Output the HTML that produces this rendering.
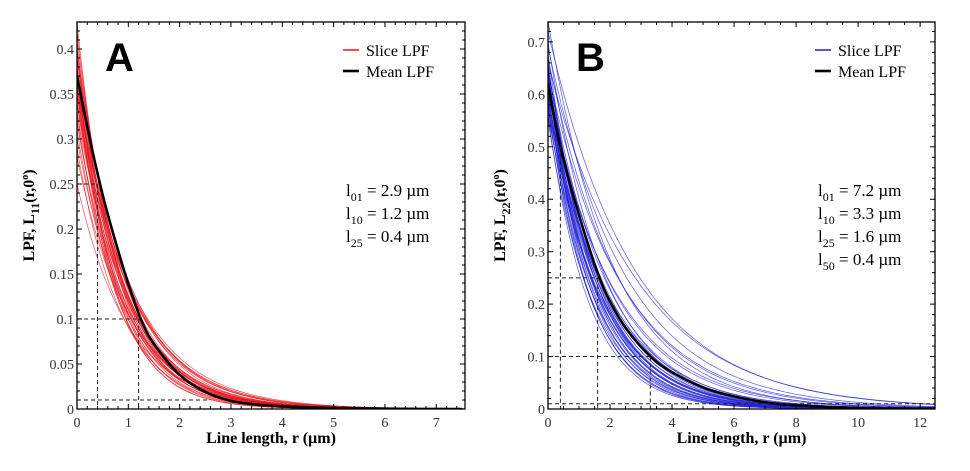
<!DOCTYPE html>
<html><head><meta charset="utf-8"><style>
body{margin:0;background:#fff}
svg text{font-family:"Liberation Serif",serif}
</style></head><body>
<svg id="fig" width="970" height="466" viewBox="0 0 970 466" xmlns="http://www.w3.org/2000/svg"></svg>
<script>
// ---- Panel A data ----
const meanA_r = [0,0.25,0.5,0.75,1,1.25,1.5,2,2.5,3,3.5,4,5,6,7.5];
const meanA_y = [0.37,0.30,0.238,0.186,0.139,0.099,0.072,0.038,0.019,0.009,0.005,0.003,0.001,0.0003,0];
const sliceA_amp = [0.43,0.42,0.41,0.40,0.40,0.39,0.39,0.38,0.38,0.37,0.37,0.37,0.36,0.36,0.36,0.35,0.35,0.34,0.34,0.33,0.33,0.32,0.31,0.30,0.29,0.28,0.25,0.38,0.36,0.35,0.40,0.37,0.34,0.39,0.36,0.32];
const sliceA_len = [0.78,0.82,0.88,0.80,0.95,0.86,1.00,0.90,0.75,0.87,0.93,1.02,0.80,0.92,1.05,0.84,0.97,0.90,1.08,0.80,1.00,0.94,0.88,0.96,0.86,1.02,1.00,0.72,0.74,1.10,0.91,0.82,0.95,0.89,1.02,0.90];
const xTicksA = [0,1,2,3,4,5,6,7];
const yTicksA = [0,0.05,0.1,0.15,0.2,0.25,0.3,0.35,0.4];
const yTickLabelsA = ["0","0.05","0.1","0.15","0.2","0.25","0.3","0.35","0.4"];
const statsA = [["01","2.9"],["10","1.2"],["25","0.4"]];
// ---- Panel B data ----
const meanB_r = [0,0.4,1,1.6,2,2.5,3.3,4,5,6,7.2,8,9,10,11,12.5];
const meanB_y = [0.62,0.50,0.37,0.26,0.205,0.155,0.10,0.07,0.041,0.024,0.011,0.007,0.004,0.002,0.001,0.0005];
const sliceB_amp = [0.74,0.72,0.70,0.69,0.68,0.67,0.66,0.66,0.65,0.65,0.64,0.64,0.63,0.63,0.62,0.62,0.61,0.61,0.60,0.60,0.59,0.59,0.58,0.58,0.57,0.57,0.56,0.56,0.55,0.64,0.62,0.60,0.66,0.63,0.61,0.59,0.58,0.65,0.62,0.60];
const sliceB_len = [2.1,2.8,1.8,2.5,1.5,2.3,1.6,2.9,1.45,1.9,1.7,2.4,1.35,1.85,1.55,2.1,1.3,1.75,1.6,2.2,1.45,1.9,1.35,1.7,1.5,2.0,1.3,1.75,1.45,1.65,1.5,1.7,1.55,1.4,1.85,1.6,1.35,1.75,1.65,1.5];
const xTicksB = [0,2,4,6,8,10,12];
const yTicksB = [0,0.1,0.2,0.3,0.4,0.5,0.6,0.7];
const yTickLabelsB = ["0","0.1","0.2","0.3","0.4","0.5","0.6","0.7"];
const statsB = [["01","7.2"],["10","3.3"],["25","1.6"],["50","0.4"]];

const NS="http://www.w3.org/2000/svg";
const svg=document.getElementById('fig');
function el(tag,attrs,parent,txt){const e=document.createElementNS(NS,tag);for(const k in attrs)e.setAttribute(k,attrs[k]);if(txt!==undefined)e.textContent=txt;(parent||svg).appendChild(e);return e;}

function smoothPath(pts){
  let d='M'+pts[0][0].toFixed(1)+','+pts[0][1].toFixed(1);
  for(let i=0;i<pts.length-1;i++){
    const p0=pts[Math.max(0,i-1)],p1=pts[i],p2=pts[i+1],p3=pts[Math.min(pts.length-1,i+2)];
    const c1=[p1[0]+(p2[0]-p0[0])/6,p1[1]+(p2[1]-p0[1])/6];
    const c2=[p2[0]-(p3[0]-p1[0])/6,p2[1]-(p3[1]-p1[1])/6];
    d+='C'+c1[0].toFixed(1)+','+c1[1].toFixed(1)+' '+c2[0].toFixed(1)+','+c2[1].toFixed(1)+' '+p2[0].toFixed(1)+','+p2[1].toFixed(1);
  }
  return d;
}

function panel(o){
  const g=el('g',{});
  
  
  const X=v=>o.x0+(v/o.xmax)*(o.x1-o.x0);
  const Y=v=>o.y1-(v/o.ymax)*(o.y1-o.y0);
  const clipId='clip'+o.letter;
  const cp=el('clipPath',{id:clipId},g);el('rect',{x:o.x0,y:o.y0,width:o.x1-o.x0,height:o.y1-o.y0},cp);
  const curves=el('g',{'clip-path':'url(#'+clipId+')'},g);
  for(let i=0;i<o.amp.length;i++){
    let d='';
    for(let k=0;k<=120;k++){const r=o.xmax*k/120;const v=o.amp[i]*Math.exp(-r/o.len[i]);d+=(k?'L':'M')+X(r).toFixed(1)+','+Y(v).toFixed(1);}
    const p=el('path',{d:d,fill:'none',stroke:o.color,'stroke-width':0.7,'stroke-opacity':0.75},curves);
    
    
  }
  const gd=el('g',{stroke:'#222','stroke-width':1,'stroke-dasharray':'4,3',fill:'none'},g);
  o.guides.forEach(s=>{el('line',{x1:X(s[0]),y1:Y(s[1]),x2:X(s[2]),y2:Y(s[3])},gd);});
  const pts=o.mr.map((r,i)=>[X(r),Y(o.my[i])]);
  const m=el('path',{d:smoothPath(pts),fill:'none',stroke:'#000','stroke-width':2.6,'stroke-linejoin':'round'},curves);
  
  
  el('rect',{x:o.x0,y:o.y0,width:o.x1-o.x0,height:o.y1-o.y0,fill:'none',stroke:'#000','stroke-width':1.3},g);
  const tk=el('g',{stroke:'#000','stroke-width':1},g);
  for(let v=0;v<=o.xmax+1e-9;v+=o.xminor){const mj=Math.abs(v/o.xmajor-Math.round(v/o.xmajor))<1e-6;const L=mj?5:3;
    el('line',{x1:X(v),x2:X(v),y1:o.y1,y2:o.y1-L},tk);el('line',{x1:X(v),x2:X(v),y1:o.y0,y2:o.y0+L},tk);}
  for(let v=0;v<=o.ymax+1e-9;v+=o.yminor){const mj=Math.abs(v/o.ymajor-Math.round(v/o.ymajor))<1e-6;const L=mj?5:3;
    el('line',{y1:Y(v),y2:Y(v),x1:o.x0,x2:o.x0+L},tk);el('line',{y1:Y(v),y2:Y(v),x1:o.x1,x2:o.x1-L},tk);}
  o.xt.forEach(v=>{const t=el('text',{x:X(v),y:o.y1+18,'text-anchor':'middle','font-size':14,fill:'#333'},g,String(v));});
  o.yt.forEach((v,i)=>{const t=el('text',{x:o.x0-3,y:Y(v)+5,'text-anchor':'end','font-size':14,fill:'#333'},g,o.ytl[i]);});
  const xt=el('text',{x:(o.x0+o.x1)/2,y:o.y1+34,'text-anchor':'middle','font-size':16,'font-weight':'bold'},g,'Line length, r (\u00b5m)');
  
  const yt=el('text',{transform:'translate('+(o.x0-43)+','+((o.y0+o.y1)/2)+') rotate(-90)','text-anchor':'middle','font-size':16,'font-weight':'bold'},g);
  
  el('tspan',{},yt,'LPF, L');el('tspan',{'font-size':12,dy:5},yt,o.sub);el('tspan',{dy:-5},yt,'(r,0');el('tspan',{'font-size':10,dy:-6},yt,'o');el('tspan',{dy:6},yt,')');
  const lt=el('text',{x:o.x0+28,y:o.y0+49,'font-size':40,'font-weight':'bold',style:'font-family:"Liberation Sans",sans-serif'},g,o.letter);
  
  const lg=el('g',{},g);
  const lx=o.legX;
  el('line',{x1:lx,x2:lx+16,y1:50,y2:50,stroke:o.color,'stroke-width':1.5},lg);
  el('text',{x:lx+23,y:56,'font-size':16},lg,'Slice LPF');
  el('line',{x1:lx,x2:lx+16,y1:71,y2:71,stroke:'#000','stroke-width':2.6},lg);
  el('text',{x:lx+23,y:77,'font-size':16},lg,'Mean LPF');
  o.stats.forEach((s,i)=>{const t=el('text',{x:o.legX+3,y:196+i*23,'font-size':17},g);
    
    el('tspan',{},t,'l');el('tspan',{'font-size':12,dy:5},t,s[0]);el('tspan',{dy:-5},t,' = '+s[1]+' \u00b5m');});
}
panel({name:'panel-a',letter:'A',x0:77,x1:465,y0:22,y1:409,xmax:7.56,ymax:0.43,xmajor:1,xminor:0.2,ymajor:0.05,yminor:0.01,
  xt:xTicksA,yt:yTicksA,ytl:yTickLabelsA,amp:sliceA_amp,len:sliceA_len,mr:meanA_r,my:meanA_y,color:'#e8141c',sub:'11',legX:343,stats:statsA,
  guides:[[0,0.25,0.4,0.25],[0.4,0.25,0.4,0],[0,0.1,1.2,0.1],[1.2,0.1,1.2,0],[0,0.01,2.6,0.01]]});
panel({name:'panel-b',letter:'B',x0:548,x1:935,y0:22,y1:409,xmax:12.48,ymax:0.738,xmajor:2,xminor:0.5,ymajor:0.1,yminor:0.02,
  xt:xTicksB,yt:yTicksB,ytl:yTickLabelsB,amp:sliceB_amp,len:sliceB_len,mr:meanB_r,my:meanB_y,color:'#2020d8',sub:'22',legX:815,stats:statsB,
  guides:[[0,0.25,1.6,0.25],[0.4,0.5,0.4,0],[1.6,0.25,1.6,0],[0,0.1,3.3,0.1],[3.3,0.1,3.3,0],[0,0.01,12.48,0.01]]});
</script>
</body></html>
